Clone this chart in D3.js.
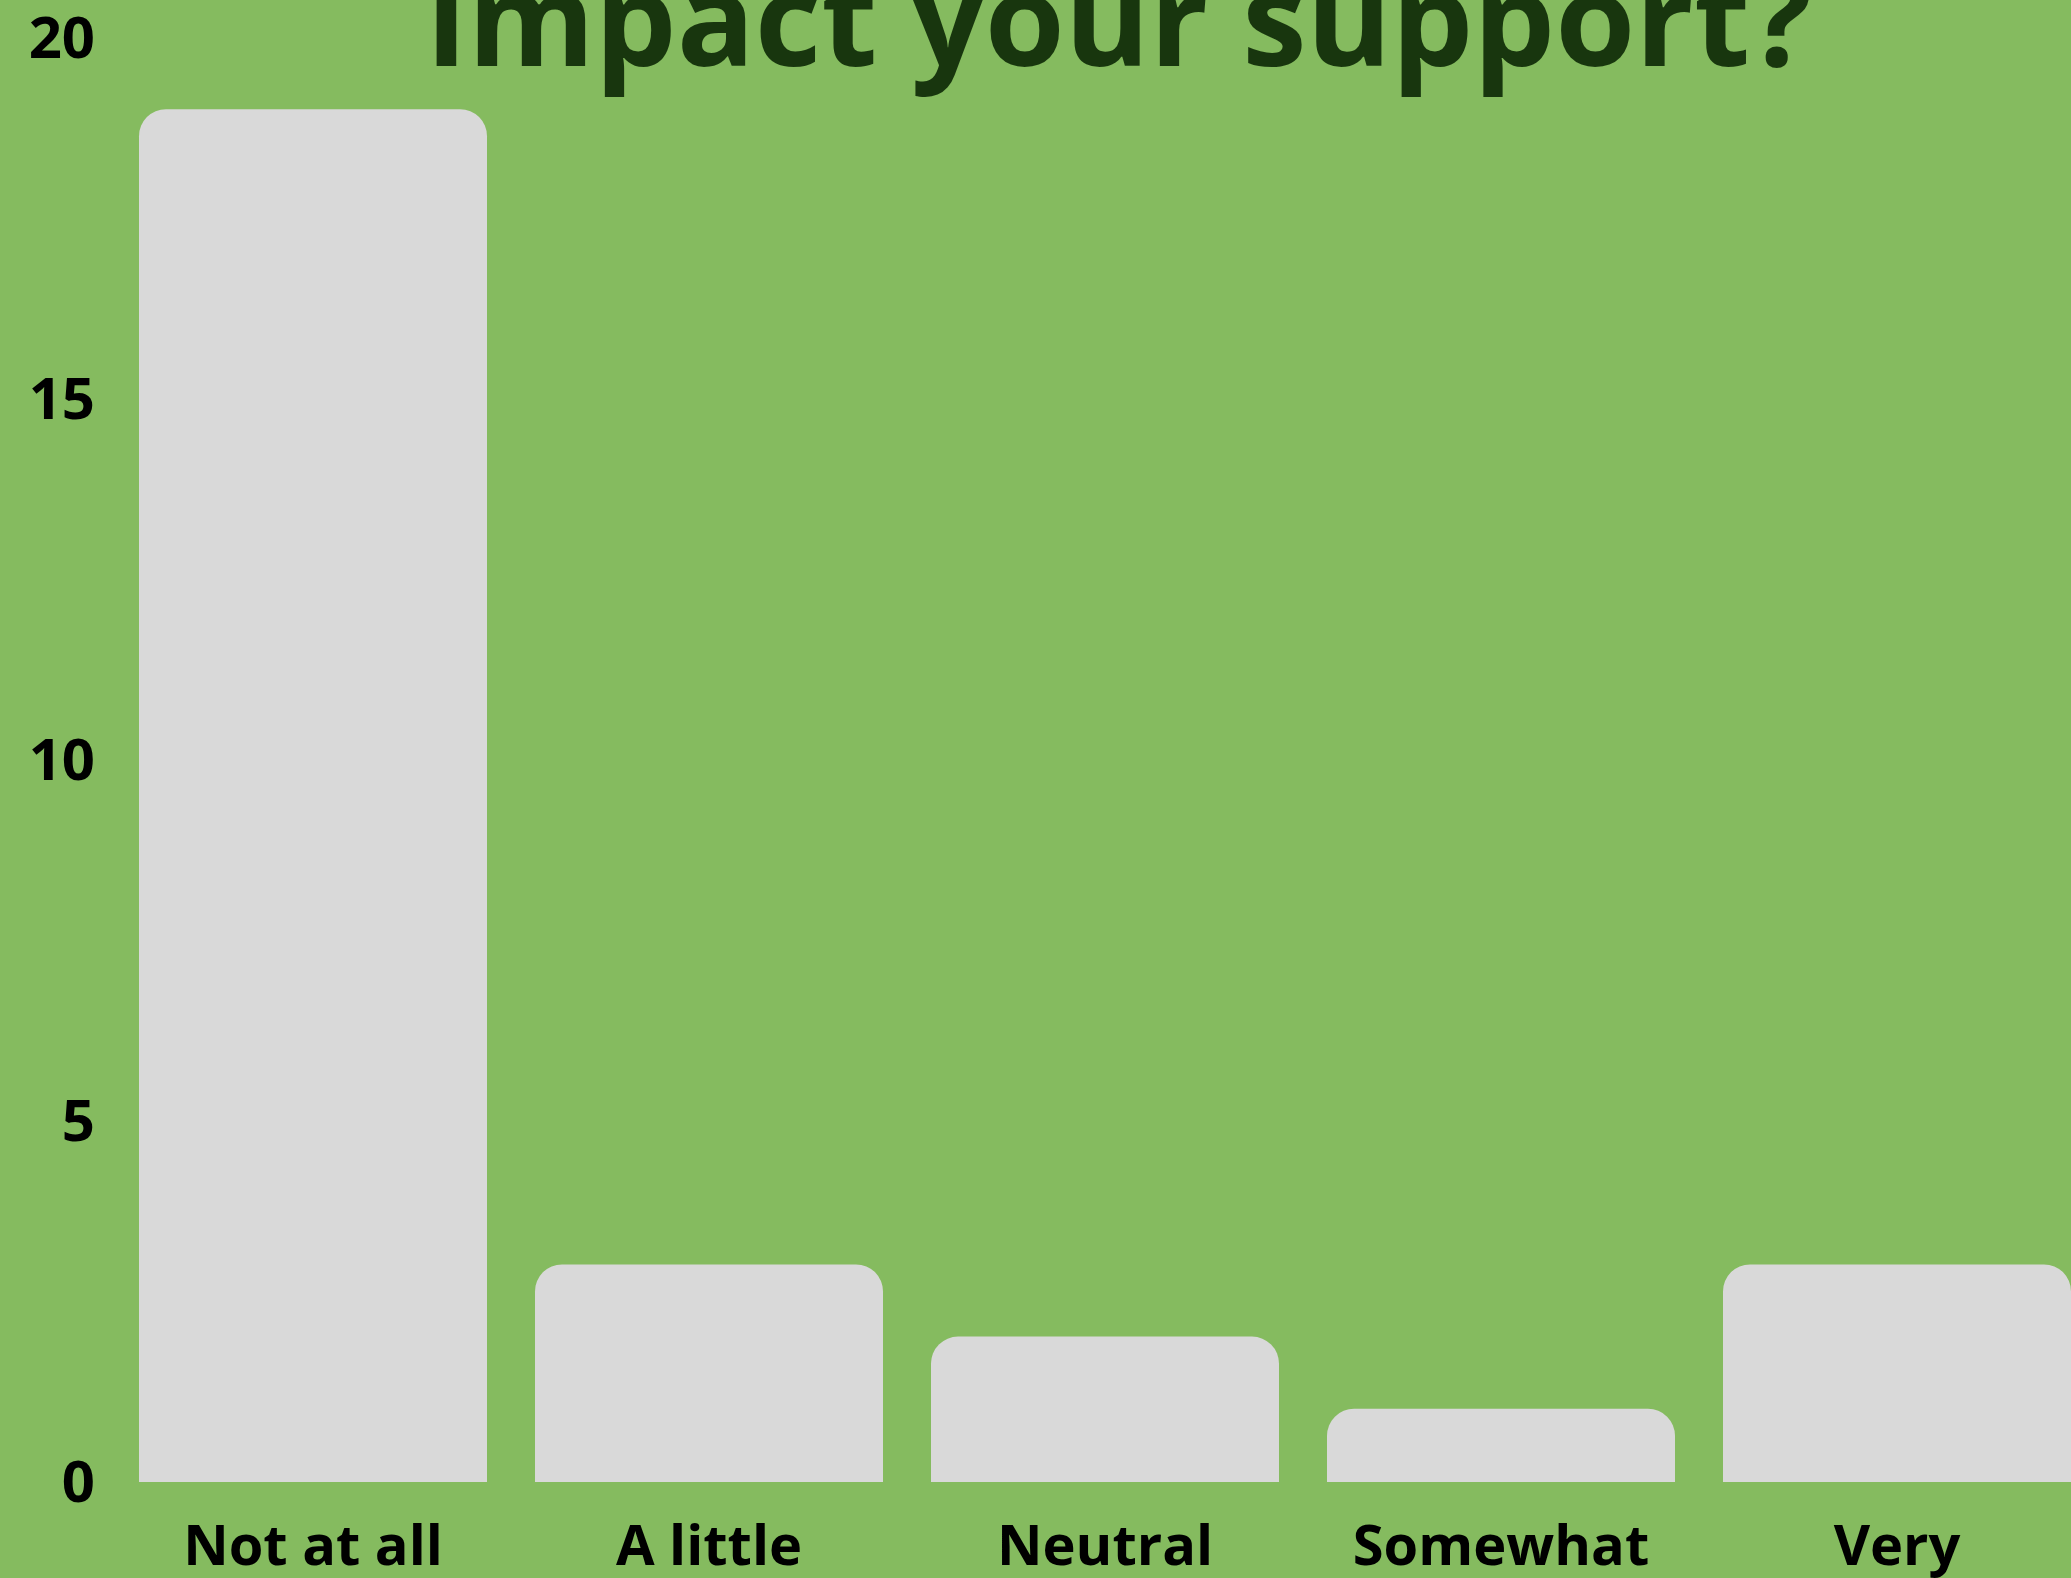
<!DOCTYPE html>
<html>
<head>
<meta charset="utf-8">
<script src="https://cdn.jsdelivr.net/npm/d3@7"></script>
<style>
  html, body { margin: 0; padding: 0; background: #85bb5f; overflow: hidden; }
  svg { display: block; }
</style>
</head>
<body>
<svg id="chart" width="2071" height="1578"></svg>
<script>
const categories = ["Not at all", "A little", "Neutral", "Somewhat", "Very"];
const values = [19, 3, 2, 1, 3];
const yTicks = [0, 5, 10, 15, 20];
const titleText = "Impact your support?";

const W = 2071, H = 1578;
const svg = d3.select("#chart");

svg.append("rect").attr("width", W).attr("height", H).attr("fill", "#85bb5f");

const x = d3.scaleBand()
  .domain(categories)
  .range([139, 2071])
  .paddingInner(48 / 396)
  .paddingOuter(0);

const y = d3.scaleLinear().domain([0, 20]).range([1481, 37]);

const r = 27;
function barPath(x0, w, yTop, yBot) {
  const rr = Math.min(r, (yBot - yTop), w / 2);
  return `M${x0},${yBot} L${x0},${yTop + rr} A${rr},${rr} 0 0 1 ${x0 + rr},${yTop} ` +
         `L${x0 + w - rr},${yTop} A${rr},${rr} 0 0 1 ${x0 + w},${yTop + rr} L${x0 + w},${yBot} Z`;
}

svg.append("g").selectAll("path")
  .data(categories.map((c, i) => ({ c, v: values[i] })))
  .join("path")
  .attr("d", d => barPath(x(d.c), x.bandwidth(), y(d.v), y(0) + 1))
  .attr("fill", "#d9d9d9");

// Y axis labels
const yAxis = d3.axisLeft(y).tickValues(yTicks).tickSize(0).tickPadding(0);
const gy = svg.append("g").attr("transform", "translate(95,0)").call(yAxis);
gy.select(".domain").remove();
gy.selectAll("text")
  .attr("font-family", "'Open Sans', sans-serif")
  .attr("font-weight", 700)
  .attr("font-size", 58)
  .attr("fill", "#000")
  .attr("dy", "0.36em");

// X axis labels
const xAxis = d3.axisBottom(x).tickSize(0).tickPadding(0);
const gx = svg.append("g").attr("transform", "translate(0,1565)").call(xAxis);
gx.select(".domain").remove();
gx.selectAll("text")
  .attr("font-family", "'Open Sans', sans-serif")
  .attr("font-weight", 700)
  .attr("font-size", 56)
  .attr("fill", "#000")
  .attr("dy", 0)
  .attr("y", 0);

// Title (only the bottom line is visible; top is cropped)
const title = svg.append("text")
  .attr("x", 425)
  .attr("y", 66)
  .attr("font-family", "'Open Sans', sans-serif")
  .attr("font-weight", 700)
  .attr("font-size", 130)
  .attr("fill", "#18360e")
  .text(titleText);
const tw = title.node().getComputedTextLength();
title.attr("font-size", 130 * 1387 / tw);
</script>
</body>
</html>
